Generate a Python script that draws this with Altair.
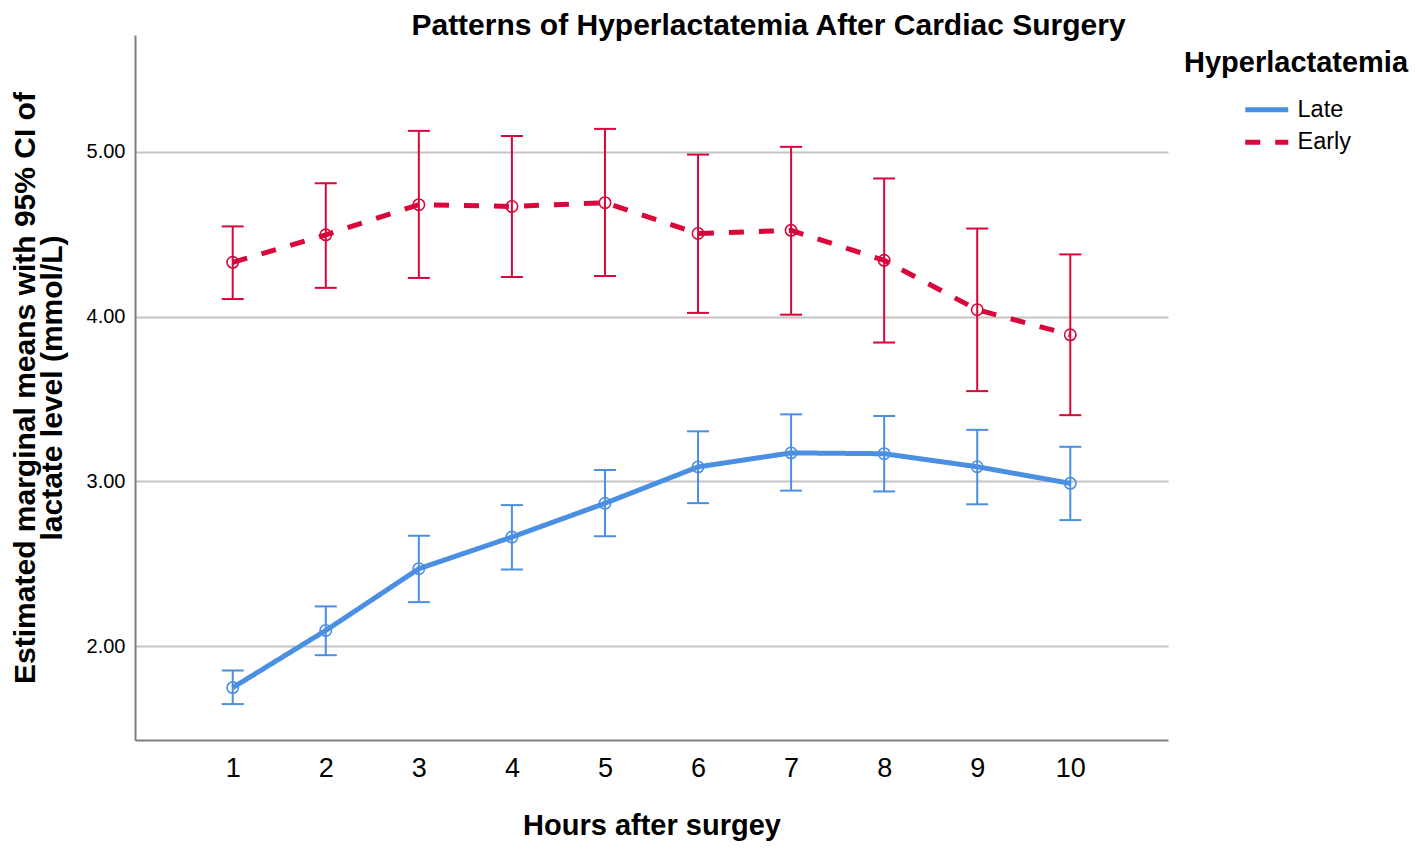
import altair as alt
import pandas as pd

hours = list(range(1, 11))
groups = ["Late", "Early"]
colors = ["#4a8fe2", "#d8063a"]

late_mean = [1.748, 2.095, 2.470, 2.662, 2.867, 3.088, 3.173, 3.168, 3.089, 2.988]
late_low = [1.648, 1.945, 2.267, 2.465, 2.667, 2.868, 2.944, 2.939, 2.861, 2.765]
late_high = [1.852, 2.241, 2.670, 2.856, 3.069, 3.304, 3.407, 3.397, 3.313, 3.210]

early_mean = [4.330, 4.497, 4.680, 4.669, 4.692, 4.505, 4.524, 4.342, 4.042, 3.890]
early_low = [4.107, 4.175, 4.235, 4.241, 4.247, 4.023, 4.012, 3.843, 3.548, 3.402]
early_high = [4.548, 4.810, 5.128, 5.097, 5.140, 4.984, 5.031, 4.839, 4.535, 4.378]

df = pd.DataFrame({
    "hour": hours * 2,
    "group": ["Late"] * len(hours) + ["Early"] * len(hours),
    "mean": late_mean + early_mean,
    "low": late_low + early_low,
    "high": late_high + early_high,
})

FONT = "Liberation Sans"
x_scale = alt.Scale(domain=[-0.05, 11.05], nice=False, zero=False)
y_scale = alt.Scale(domain=[1.43, 5.71], nice=False, zero=False)
color_scale = alt.Scale(domain=groups, range=colors)

x_axis = alt.Axis(
    values=hours, title="Hours after surgey", grid=False, ticks=False,
    labelFontSize=27, labelFont=FONT, labelColor="#000000", labelPadding=15,
    titleFontSize=29, titleFont=FONT, titleFontWeight="bold", titleColor="#000000",
    titlePadding=30, domainColor="#7f7f7f", domainWidth=2,
)
y_axis = alt.Axis(
    values=[2, 3, 4, 5], format=".2f", ticks=False, grid=True,
    gridColor="#c4c4c4", gridWidth=2,
    labelFontSize=20, labelFont=FONT, labelColor="#000000", labelPadding=10,
    title=["Estimated marginal means with 95% CI of", "lactate level (mmol/L)"],
    titleFontSize=30, titleFont=FONT, titleFontWeight="bold", titleColor="#000000",
    titleLineHeight=27, titlePadding=19,
    domainColor="#7f7f7f", domainWidth=2,
)

legend = alt.Legend(
    title=None, orient="none", legendX=1120, legendY=63,
    symbolType="M-2.5,0H2.5", symbolSize=296, symbolStrokeWidth=5,
    labelFontSize=23.5, labelFont=FONT, labelColor="#000000",
    labelOffset=19, rowPadding=7.5, padding=0,
)

base = alt.Chart(df)

lines = base.mark_line(strokeWidth=5).encode(
    x=alt.X("hour:Q", scale=x_scale, axis=x_axis),
    y=alt.Y("mean:Q", scale=y_scale, axis=y_axis),
    color=alt.Color("group:N", scale=color_scale, sort=groups, legend=legend),
    strokeDash=alt.StrokeDash("group:N", sort=groups,
                              scale=alt.Scale(domain=groups, range=[[1, 0], [15, 15]]),
                              legend=legend),
)

bars = base.mark_rule(strokeWidth=2).encode(
    x=alt.X("hour:Q", scale=x_scale, axis=x_axis),
    y=alt.Y("low:Q", scale=y_scale, axis=y_axis),
    y2="high:Q",
    color=alt.Color("group:N", scale=color_scale, legend=None),
)

caps = base.transform_fold(["low", "high"], as_=["k", "v"]).mark_rule(
    strokeWidth=2, xOffset=-11, x2Offset=11
).encode(
    x=alt.X("hour:Q", scale=x_scale, axis=x_axis),
    x2="hour:Q",
    y=alt.Y("v:Q", scale=y_scale, axis=y_axis),
    color=alt.Color("group:N", scale=color_scale, legend=None),
)

points = base.mark_point(filled=False, size=130, strokeWidth=1.6, opacity=1).encode(
    x=alt.X("hour:Q", scale=x_scale, axis=x_axis),
    y=alt.Y("mean:Q", scale=y_scale, axis=y_axis),
    color=alt.Color("group:N", scale=color_scale, legend=None),
)

legend_title = alt.Chart(pd.DataFrame({"t": ["Hyperlactatemia"]})).mark_text(
    align="left", baseline="alphabetic", fontSize=29, fontWeight="bold",
    font=FONT, color="#000000",
).encode(x=alt.value(1049), y=alt.value(37), text="t:N")

chart = alt.layer(lines, bars, caps, points, legend_title).properties(
    width=1033,
    height=705,
    background="white",
    autosize=alt.AutoSizeParams(type="none"),
    padding={"left": 127, "top": 27, "right": 242, "bottom": 101},
    title=alt.TitleParams(
        "Patterns of Hyperlactatemia After Cardiac Surgery",
        fontSize=30, font=FONT, fontWeight="bold", color="#000000",
        anchor="middle", dx=117, offset=-6,
    ),
).configure_view(stroke=None)

chart.save("out.html", embed_options={"renderer": "svg", "actions": False})
